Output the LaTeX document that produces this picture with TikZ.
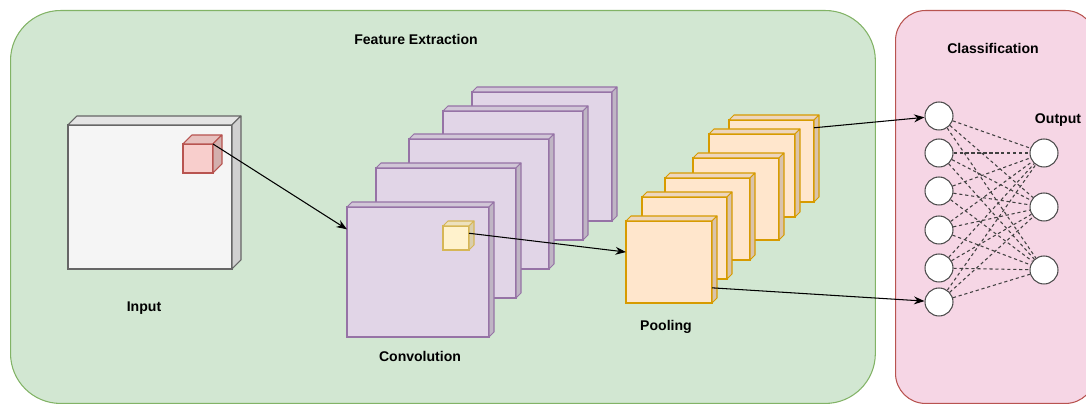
\documentclass[tikz,border=0pt]{standalone}
\usepackage{fontspec}
\setmainfont{Liberation Sans}
\usepackage{tikz}
\usetikzlibrary{arrows.meta}

\definecolor{featFill}{HTML}{D2E7D2}
\definecolor{featLine}{HTML}{82B366}
\definecolor{clasFill}{HTML}{F6D6E5}
\definecolor{clasLine}{HTML}{B85450}
\definecolor{inpFill}{HTML}{F5F5F5}
\definecolor{inpLine}{HTML}{666666}
\definecolor{kerFill}{HTML}{F8CECC}
\definecolor{kerLine}{HTML}{B85450}
\definecolor{convFill}{HTML}{E1D5E7}
\definecolor{convLine}{HTML}{9673A6}
\definecolor{winFill}{HTML}{FFF2CC}
\definecolor{winLine}{HTML}{D6B656}
\definecolor{poolFill}{HTML}{FFE6CC}
\definecolor{poolLine}{HTML}{D79B00}

% slab: name, x, y (front top left), width, height, depth, fill, line
\newcommand{\slab}[8]{%
  \node[slab, fill=#7, draw=#8, minimum width=#4*0.02cm, minimum height=#5*0.02cm] (#1) at (#2,#3) {};
  \filldraw[fill=#7!93!black, draw=#8, line join=round] (#1.north west) -- ++(#6,-#6) -- ++(#4,0) -- (#1.north east) -- cycle;
  \filldraw[fill=#7!85!black, draw=#8, line join=round] (#1.north east) -- ++(#6,-#6) -- ++(0,#5) -- (#1.south east) -- cycle;
}

\begin{document}
\begin{tikzpicture}[x=0.02cm, y=-0.02cm, line width=0.6pt, >={Stealth[length=6pt,width=4.5pt]}]
	\tikzstyle{slab}=[rectangle, anchor=north west, inner sep=0pt, outer sep=0pt]
	\tikzstyle{panel}=[rectangle, anchor=north west, inner sep=0pt]
	\tikzstyle{lbl}=[font=\bfseries\fontsize{8}{9.6}\selectfont, inner sep=0pt]
	\tikzstyle{neuron}=[circle, draw=black!70, fill=white, minimum size=0.56cm, inner sep=0pt]
	\tikzstyle{net}=[dashed, dash pattern=on 1.8pt off 1.6pt, draw=black!75]
	
	\useasboundingbox (0,0) rectangle (1086,404);
	
	% the two stages
	\node[panel, fill=featFill, draw=featLine, rounded corners=1cm, minimum width=17.3cm, minimum height=7.86cm] (feat) at (10,10) {};
	\node[panel, fill=clasFill, draw=clasLine, rounded corners=0.6cm, minimum width=4cm, minimum height=7.86cm] (clas) at (895,10) {};
	
	\node[lbl] (featlbl) at (416,39)  {Feature Extraction};
	\node[lbl] (claslbl) at (993,48)  {Classification};
	
	% input image with the kernel on it
	\slab{inp}{68}{125}{164}{144}{9}{inpFill}{inpLine}
	\slab{ker}{183}{144}{30}{29}{9}{kerFill}{kerLine}
	\node[lbl] (inplbl) at (144,308) {Input};
	
	% convolution maps, back to front
	\slab{conv5}{472}{92}{140}{129}{5}{convFill}{convLine}
	\slab{conv4}{443}{111}{140}{129}{5}{convFill}{convLine}
	\slab{conv3}{409}{139}{140}{130}{5}{convFill}{convLine}
	\slab{conv2}{376}{168}{140}{130}{5}{convFill}{convLine}
	\slab{conv1}{347}{207}{142}{130}{5}{convFill}{convLine}
	\slab{win}{443}{226}{26}{24}{5}{winFill}{winLine}
	\node[lbl] (convlbl) at (420,356) {Convolution};
	
	% pooled maps
	\slab{pool6}{729}{120}{85}{82}{5}{poolFill}{poolLine}
	\slab{pool5}{709}{134}{86}{83}{5}{poolFill}{poolLine}
	\slab{pool4}{693}{158}{86}{82}{5}{poolFill}{poolLine}
	\slab{pool3}{665}{178}{85}{82}{5}{poolFill}{poolLine}
	\slab{pool2}{642}{197}{85}{82}{5}{poolFill}{poolLine}
	\slab{pool1}{626}{221}{86}{82}{5}{poolFill}{poolLine}
	\node[lbl] (poollbl) at (666,327) {Pooling};
	
	% fully connected part
	\node[neuron] (f1) at (939,116) {};
	\node[neuron] (f2) at (939,153) {};
	\node[neuron] (f3) at (939,191) {};
	\node[neuron] (f4) at (939,230) {};
	\node[neuron] (f5) at (939,268) {};
	\node[neuron] (f6) at (939,302) {};
	
	\node[neuron] (o1) at (1044,153) {};
	\node[neuron] (o2) at (1044,207) {};
	\node[neuron] (o3) at (1044,270) {};
	\node[lbl] (outlbl) at (1058,120) {Output};
	
	\path[net]
	(f1) edge (o1) (f1) edge (o2) (f1) edge (o3)
	(f2) edge (o1) (f2) edge (o2) (f2) edge (o3)
	(f3) edge (o1) (f3) edge (o2) (f3) edge (o3)
	(f4) edge (o1) (f4) edge (o2) (f4) edge (o3)
	(f5) edge (o1) (f5) edge (o2) (f5) edge (o3)
	(f6) edge (o1) (f6) edge (o2) (f6) edge (o3)
	;
	
	\path[->]
	(ker.north east) edge (conv1.149)
	(win.20)         edge (pool1.167)
	(pool6.38)       edge (f1)
	(pool1.-31)      edge (f6)
	;
\end{tikzpicture}
\end{document}
